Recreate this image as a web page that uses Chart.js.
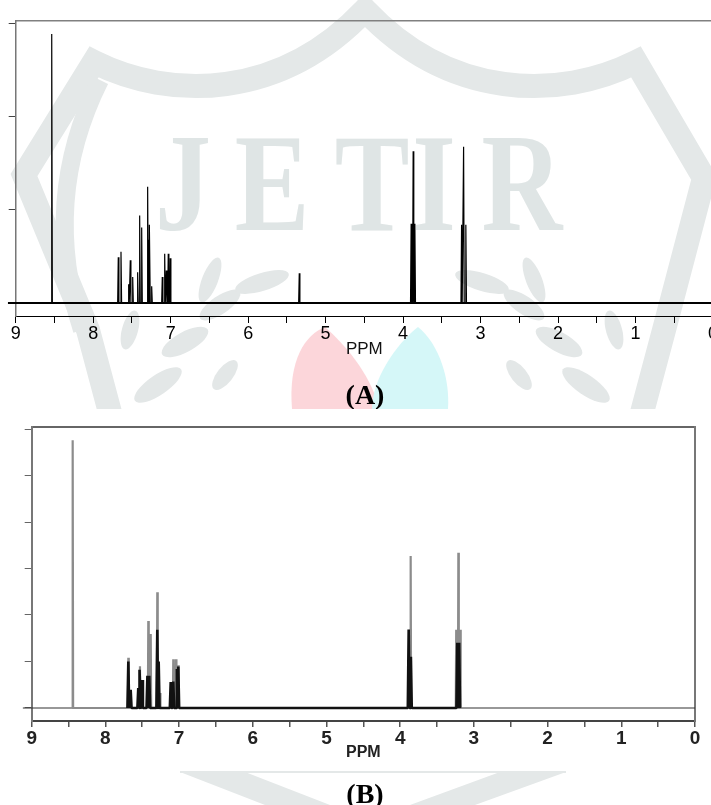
<!DOCTYPE html>
<html>
<head>
<meta charset="utf-8">
<script src="https://cdn.jsdelivr.net/npm/chart.js@4.4.0/dist/chart.umd.min.js"></script>
<style>
  html, body { margin: 0; padding: 0; background: #fff; overflow: hidden; width: 711px; height: 805px; position: relative; }
  #wm { position: absolute; left: 0; top: 0; }
  #wrapA { position: absolute; left: 0; top: 0; width: 745px; height: 409px; }
  #wrapB { position: absolute; left: 0; top: 409px; width: 711px; height: 361px; background: #fff; }
  .cap { position: absolute; left: 0; width: 730px; text-align: center; font: bold 28px "Liberation Serif", "Times New Roman", serif; line-height: 28px; color: #000; }
</style>
</head>
<body>
<canvas id="wm" width="711" height="805"></canvas>
<div id="wrapA"><canvas id="chartA" width="745" height="409"></canvas></div>
<div class="cap" style="top:381px">(A)</div>
<div id="wrapB"><canvas id="chartB" width="711" height="361"></canvas></div>
<div class="cap" style="top:780px">(B)</div>

<script>
// shift axis ticks (ppm), shared by both spectra
const xTicks = [9, 8.5, 8, 7.5, 7, 6.5, 6, 5.5, 5, 4.5, 4, 3.5, 3, 2.5, 2, 1.5, 1, 0.5, 0];
const yTicksA = [0, 1, 2, 3];
const yTicksB = [0, 1, 2, 3, 4, 5, 6];

// spectrum A: line positions (ppm) and heights
const peakPpmA = [8.535, 7.676, 7.641, 7.542, 7.521, 7.490, 7.426, 7.400, 7.374, 7.297, 7.284, 7.271, 7.245,
                  7.108, 7.077, 7.056, 7.031, 7.005, 5.340, 3.896, 3.870, 3.848, 3.245, 3.219, 3.190];
const peakHeightA = [2.89, 0.49, 0.55, 0.20, 0.46, 0.28, 0.33, 0.94, 0.81, 1.25, 0.68, 0.84, 0.18,
                     0.28, 0.53, 0.35, 0.53, 0.48, 0.32, 0.85, 1.63, 0.85, 0.84, 1.68, 0.84];

// spectrum B: grey (tall thin) lines and black (dense) lines
const grayPpmB = [8.444, 7.689, 7.531, 7.418, 7.385, 7.296, 7.259, 7.079, 7.042, 7.011, 3.858, 3.240, 3.211, 3.185];
const grayHeightB = [5.76, 1.08, 0.90, 1.87, 1.59, 2.49, 0.32, 1.05, 1.05, 0.92, 3.27, 1.68, 3.34, 1.68];
const blackPpmB = [7.689, 7.657, 7.554, 7.531, 7.503, 7.430, 7.405, 7.296, 7.277, 7.114, 7.079, 7.030, 7.011,
                   3.885, 3.855, 3.225, 3.200];
const blackHeightB = [1.00, 0.39, 0.43, 0.82, 0.60, 0.69, 0.69, 1.68, 1.00, 0.56, 0.57, 0.84, 0.89,
                      1.69, 1.10, 1.40, 1.40];

function sticks(ppm, heights, half) {
  const pts = [];
  ppm.forEach((p, i) => {
    pts.push({ x: p + half, y: 0 }, { x: p, y: heights[i] }, { x: p - half, y: 0 });
  });
  return pts;
}

function fixTicks(values) {
  return (scale) => { scale.ticks = values.map(v => ({ value: v })); };
}

function drawWatermark() {
  const g = document.getElementById('wm').getContext('2d');
  g.fillStyle = '#fff';
  g.fillRect(0, 0, 711, 805);
  const band = '#e4e8e8';

  g.strokeStyle = band;
  g.lineJoin = 'miter';
  g.lineWidth = 24;
  g.beginPath();
  g.moveTo(112, 420);
  g.lineTo(88, 330);
  g.lineTo(24, 175);
  g.lineTo(94, 62);
  g.bezierCurveTo(170, 100, 280, 100, 365, 10);
  g.bezierCurveTo(450, 100, 560, 100, 636, 62);
  g.lineTo(704, 178);
  g.lineTo(664, 330);
  g.lineTo(640, 420);
  g.stroke();

  g.lineWidth = 18;
  g.beginPath();
  g.moveTo(100, 80);
  g.quadraticCurveTo(40, 200, 82, 330);
  g.stroke();

  g.fillStyle = '#dfe5e5';
  g.font = 'bold 140px "Liberation Serif", "Times New Roman", serif';
  g.textAlign = 'center';
  g.textBaseline = 'alphabetic';
  [['J', 183], ['E', 272], ['T', 372], ['I', 434], ['R', 522]].forEach(([ch, cx]) => {
    g.save();
    g.translate(cx, 230);
    g.scale(0.8, 1);
    g.fillText(ch, 0, 0);
    g.restore();
  });

  const leaves = [[220, 305, 24, 9, -0.6], [185, 342, 26, 10, -0.5], [158, 385, 28, 10, -0.6],
                  [210, 280, 24, 8, -1.2], [262, 282, 28, 9, -0.3], [225, 375, 18, 8, -0.9], [130, 330, 20, 8, -1.3]];
  g.fillStyle = '#e3e7e7';
  leaves.forEach(([cx, cy, rx, ry, r]) => {
    g.beginPath(); g.ellipse(cx, cy, rx, ry, r, 0, Math.PI * 2); g.fill();
    g.beginPath(); g.ellipse(744 - cx, cy, rx, ry, -r, 0, Math.PI * 2); g.fill();
  });

  g.fillStyle = '#fcd6da';
  g.beginPath();
  g.moveTo(292, 409);
  g.bezierCurveTo(288, 360, 305, 335, 325, 327);
  g.bezierCurveTo(345, 345, 368, 370, 380, 409);
  g.closePath(); g.fill();
  g.fillStyle = '#d5f7f8';
  g.beginPath();
  g.moveTo(372, 409);
  g.bezierCurveTo(372, 380, 395, 345, 418, 327);
  g.bezierCurveTo(440, 345, 450, 380, 448, 409);
  g.closePath(); g.fill();

  g.fillStyle = band;
  g.fillRect(180, 771, 386, 2);
  g.beginPath(); g.moveTo(180, 772); g.lineTo(245, 772); g.lineTo(330, 805); g.lineTo(265, 805); g.closePath(); g.fill();
  g.beginPath(); g.moveTo(500, 772); g.lineTo(566, 772); g.lineTo(475, 805); g.lineTo(410, 805); g.closePath(); g.fill();
}

const baseOpts = {
  responsive: false,
  animation: false,
  devicePixelRatio: 1,
  elements: { point: { radius: 0 }, line: { tension: 0, borderJoinStyle: 'bevel' } },
  plugins: { legend: { display: false }, tooltip: { enabled: false } }
};

function initChartA() {
  new Chart(document.getElementById('chartA'), {
    type: 'line',
    data: {
      datasets: [
        { data: sticks(peakPpmA, peakHeightA, 0.008), borderColor: '#000', borderWidth: 1.2 },
        { data: [{ x: 9.1, y: 0 }, { x: -0.5, y: 0 }], borderColor: '#000', borderWidth: 2, clip: false }
      ]
    },
    options: Object.assign({}, baseOpts, {
      layout: { padding: { left: 0, top: 21, right: 32, bottom: 0 } },
      scales: {
        x: {
          type: 'linear', reverse: true, min: 0, max: 9,
          afterBuildTicks: fixTicks(xTicks),
          afterFit: (s) => { s.height = 93; },
          grid: { display: true, drawOnChartArea: false, drawTicks: true, tickLength: 7, color: '#000', lineWidth: 1 },
          border: { display: true, color: '#000', width: 1 },
          ticks: {
            padding: 0, color: '#000', autoSkip: false, maxRotation: 0,
            font: { family: '"Liberation Sans", Arial, sans-serif', size: 18 },
            callback: (v) => Number.isInteger(v) ? String(v) : ''
          },
          title: {
            display: true, text: 'PPM', color: '#111',
            font: { family: '"Liberation Sans", Arial, sans-serif', size: 17 },
            padding: { top: 0, bottom: 49 }
          }
        },
        x2: {
          type: 'linear', position: 'top', reverse: true, min: 0, max: 9,
          afterFit: (s) => { s.height = 0; },
          grid: { display: false }, ticks: { display: false },
          border: { display: true, color: '#808080', width: 1.5 }
        },
        y: {
          type: 'linear', min: -0.14, max: 3.03,
          afterBuildTicks: fixTicks(yTicksA),
          afterFit: (s) => { s.width = 15.7; },
          grid: { display: true, drawOnChartArea: false, drawTicks: true, tickLength: 7, color: '#444' },
          border: { display: true, color: '#777', width: 1.5 },
          ticks: { display: false }
        }
      }
    })
  });
}

function initChartB() {
  new Chart(document.getElementById('chartB'), {
    type: 'line',
    data: {
      datasets: [
        { data: sticks(blackPpmB, blackHeightB, 0.012), borderColor: '#111', borderWidth: 2.6 },
        { data: sticks(grayPpmB, grayHeightB, 0.006), borderColor: '#8c8c8c', borderWidth: 2.2 },
        { data: [{ x: 9.12, y: 0 }, { x: 0, y: 0 }], borderColor: '#333', borderWidth: 1.2, clip: false }
      ]
    },
    options: Object.assign({}, baseOpts, {
      layout: { padding: { left: 0, top: 17.7, right: 16, bottom: 0 } },
      scales: {
        x: {
          type: 'linear', reverse: true, min: 0, max: 9,
          afterBuildTicks: fixTicks(xTicks),
          afterFit: (s) => { s.height = 49; },
          grid: { display: true, drawOnChartArea: false, drawTicks: true, tickLength: 6, color: '#555', lineWidth: 1.5 },
          border: { display: true, color: '#444', width: 2 },
          ticks: {
            padding: 0, color: '#222', autoSkip: false, maxRotation: 0,
            font: { family: '"Liberation Sans Narrow", "Arial Narrow", sans-serif', size: 19, weight: 'bold' },
            callback: (v) => Number.isInteger(v) ? String(v) : ''
          },
          title: {
            display: true, text: 'PPM', color: '#222',
            font: { family: '"Liberation Sans Narrow", "Arial Narrow", sans-serif', size: 16, weight: 'bold' },
            padding: { top: 0, bottom: 8 }
          }
        },
        x2: {
          type: 'linear', position: 'top', reverse: true, min: 0, max: 9,
          afterFit: (s) => { s.height = 0; },
          grid: { display: false }, ticks: { display: false },
          border: { display: true, color: '#666', width: 2 }
        },
        y: {
          type: 'linear', min: -0.28, max: 6.05,
          afterBuildTicks: fixTicks(yTicksB),
          afterFit: (s) => { s.width = 31.7; },
          grid: { display: true, drawOnChartArea: false, drawTicks: true, tickLength: 7, color: '#666' },
          border: { display: true, color: '#777', width: 2 },
          ticks: { display: false }
        },
        y2: {
          type: 'linear', position: 'right', min: -0.28, max: 6.05,
          afterFit: (s) => { s.width = 0; },
          grid: { display: false }, ticks: { display: false },
          border: { display: true, color: '#777', width: 2 }
        }
      }
    })
  });
}

window.addEventListener('DOMContentLoaded', () => {
  drawWatermark();
  initChartA();
  initChartB();
});
</script>
</body>
</html>
